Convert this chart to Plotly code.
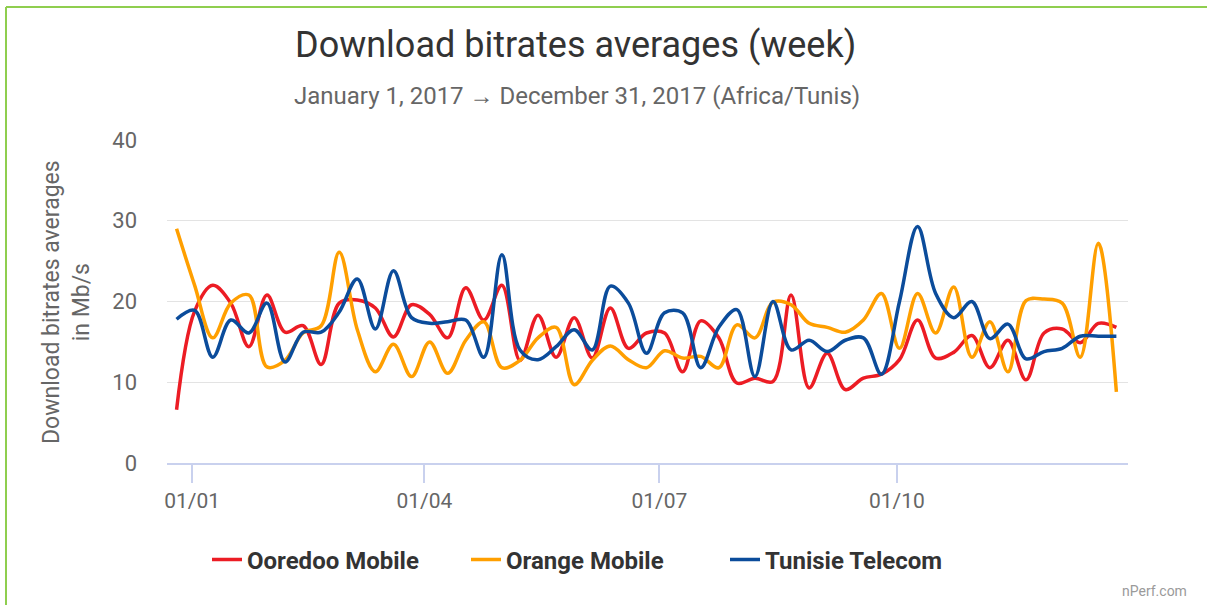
import pandas as pd
import plotly.graph_objects as go

# Weekly points (week starting Monday) from 2016-12-26 to 2017-12-25
weeks = pd.date_range("2016-12-26", periods=53, freq="7D")

ooredoo = [6.6, 18.8, 22.0, 19.8, 14.4, 20.8, 16.2, 17.0, 12.2, 19.8,
           20.2, 19.2, 15.6, 19.6, 18.4, 15.5, 21.7, 17.7, 22.0, 12.7,
           18.3, 13.1, 18.0, 13.0, 19.2, 14.2, 16.1, 16.1, 11.3, 17.6,
           15.5, 9.9, 10.5, 10.1, 20.8, 9.3, 13.6, 9.1, 10.5, 11.0,
           12.8, 17.7, 13.0, 13.7, 15.8, 11.8, 15.2, 10.3, 16.1, 16.6,
           14.9, 17.3, 16.8]
orange = [29.0, 22.0, 15.5, 19.8, 20.8, 11.9, 12.7, 16.1, 17.0, 26.1,
          16.5, 11.3, 14.7, 10.7, 15.0, 11.1, 15.2, 17.5, 11.8, 12.7,
          15.5, 16.8, 9.7, 12.7, 14.5, 12.8, 11.8, 13.9, 13.0, 13.2,
          11.8, 17.1, 15.5, 19.9, 19.6, 17.3, 16.8, 16.2, 17.7, 21.0,
          14.2, 21.0, 16.1, 21.8, 13.1, 17.5, 11.3, 20.1, 20.3, 19.8,
          13.1, 27.2, 8.8]
tunisie = [17.8, 18.9, 13.1, 17.7, 16.1, 19.8, 12.5, 16.2, 16.2, 18.7,
           22.8, 16.6, 23.8, 18.0, 17.3, 17.5, 17.7, 13.1, 25.8, 14.0,
           12.8, 14.4, 16.5, 14.0, 21.9, 19.8, 13.6, 18.6, 18.6, 11.8,
           16.8, 19.0, 10.7, 20.0, 14.0, 15.2, 13.8, 15.2, 15.5, 11.0,
           20.0, 29.3, 21.0, 18.0, 20.0, 15.4, 17.2, 12.9, 13.8, 14.2,
           15.7, 15.7, 15.7]

series_names = ["Ooredoo Mobile", "Orange Mobile", "Tunisie Telecom"]
series_colors = ["#ec1c24", "#ff9f00", "#0b4c9b"]

tick_vals = ["2017-01-01", "2017-04-01", "2017-07-01", "2017-10-01"]
tick_text = ["01/01", "01/04", "01/07", "01/10"]
y_ticks = [0, 10, 20, 30, 40]

fig = go.Figure()
for name, vals, col in zip(series_names, [ooredoo, orange, tunisie], series_colors):
    fig.add_trace(go.Scatter(
        x=weeks, y=vals, name=name, mode="lines",
        line=dict(color=col, width=3.5, shape="spline", smoothing=1.0),
    ))

W, H = 1207, 605
L, R, T, B = 167, 1128, 140, 463
pw, ph = R - L, B - T

def px(x):
    return (x - L) / pw

def py(y):
    return (B - y) / ph

fig.update_layout(
    width=W, height=H,
    margin=dict(l=L, r=W - R, t=T, b=H - B, pad=0),
    paper_bgcolor="white", plot_bgcolor="white",
    font=dict(family="Roboto", color="#666666"),
    showlegend=True,
    legend=dict(orientation="h", x=px(207), xanchor="left", y=py(560), yanchor="middle",
                font=dict(family="Roboto", size=24, color="#333333", weight="bold"),
                itemwidth=30, tracegroupgap=0, entrywidth=214, entrywidthmode="pixels"),
    xaxis=dict(
        type="date", range=["2016-12-22 07:00", "2017-12-29 12:00"],
        tickvals=tick_vals, ticktext=tick_text,
        showgrid=False, showline=True, linecolor="#c9d1ee", linewidth=1.5,
        ticks="outside", ticklen=18, tickcolor="#c9d1ee", tickwidth=1.5,
        tickfont=dict(family="Roboto", size=21, color="#666666"),
        zeroline=False, fixedrange=True,
    ),
    yaxis=dict(
        range=[0, 40], tickvals=y_ticks, showgrid=True, gridcolor="#e3e3e3", gridwidth=1,
        zeroline=False, showline=False, ticks="",
        tickfont=dict(family="Roboto", size=22, color="#666666"),
        ticklabelstandoff=29,
    ),
    annotations=[
        dict(text="Download bitrates averages (week)", x=px(575), y=py(45), xref="paper", yref="paper",
             showarrow=False, xanchor="center", yanchor="middle",
             font=dict(family="Roboto", size=36, color="#333333")),
        dict(text="January 1, 2017 \u2192 December 31, 2017 (Africa/Tunis)", x=px(577), y=py(96),
             xref="paper", yref="paper", showarrow=False, xanchor="center", yanchor="middle",
             font=dict(family="Roboto", size=24, color="#666666")),
        dict(text="Download bitrates averages<br>in Mb/s", x=px(66), y=py(302), xref="paper", yref="paper",
             showarrow=False, xanchor="center", yanchor="middle", textangle=-90,
             font=dict(family="Roboto", size=23, color="#666666")),
        dict(text="nPerf.com", x=px(1189), y=py(591), xref="paper", yref="paper",
             showarrow=False, xanchor="right", yanchor="middle",
             font=dict(family="Roboto", size=14, color="#9a9a9a")),
    ],
    shapes=[
        dict(type="line", xref="paper", yref="paper", x0=px(6), x1=px(1207), y0=py(7), y1=py(7),
             line=dict(color="#8fce4f", width=2)),
        dict(type="line", xref="paper", yref="paper", x0=px(6), x1=px(6), y0=py(7), y1=py(605),
             line=dict(color="#8fce4f", width=2)),
    ],
)

fig.write_html("out.html", config={"displayModeBar": False},
               post_script="document.body.style.margin='0';document.body.style.overflow='hidden';")
